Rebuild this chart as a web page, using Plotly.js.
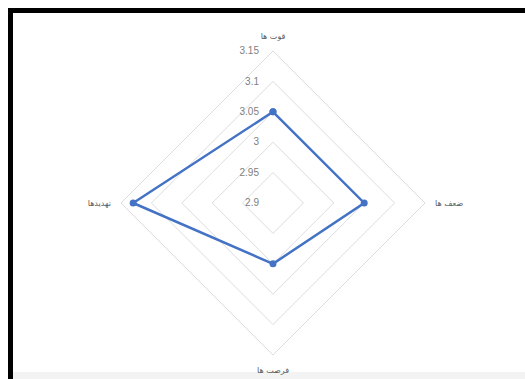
<!DOCTYPE html>
<html>
<head>
<meta charset="utf-8">
<script src="https://cdn.plot.ly/plotly-3.0.1.min.js"></script>
<style>
  html, body { margin: 0; padding: 0; background: #ffffff; width: 525px; height: 379px; overflow: hidden; }
  #frame { position: absolute; left: 8px; top: 8px; width: 517px; height: 371px;
           border-top: 5px solid #000; border-left: 5px solid #000; box-sizing: border-box; }
  #band { position: absolute; left: 13px; top: 372px; width: 512px; height: 7px; background: #f3f3f3; }
  #chart { position: absolute; left: 13px; top: 13px; width: 512px; height: 366px; }
</style>
</head>
<body>
<div id="frame"></div>
<div id="band"></div>
<div id="chart"></div>
<script>
// Data (SWOT scores)
const categories = ['قوت ها', 'ضعف ها', 'فرصت ها', 'تهدیدها'];
const values = [3.05, 3.05, 3.00, 3.13];
const radialTicks = [2.9, 2.95, 3, 3.05, 3.1, 3.15];
const radialTickLabels = ['2.9', '2.95', '3', '3.05', '3.1', '3.15'];

const trace = {
  type: 'scatterpolar',
  r: values.concat([values[0]]),
  theta: categories.concat([categories[0]]),
  mode: 'lines+markers',
  line: { color: '#4472C4', width: 2.5 },
  marker: { color: '#4472C4', size: 7 },
  hoverinfo: 'skip'
};

const layout = {
  width: 512,
  height: 366,
  margin: { l: 0, r: 0, t: 0, b: 0 },
  paper_bgcolor: 'rgba(0,0,0,0)',
  plot_bgcolor: 'rgba(0,0,0,0)',
  showlegend: false,
  polar: {
    domain: { x: [0.2109, 0.8047], y: [0.0656, 0.8962] },
    gridshape: 'linear',
    bgcolor: 'rgba(0,0,0,0)',
    radialaxis: {
      range: [2.9, 3.15],
      tickvals: radialTicks,
      ticktext: radialTickLabels,
      angle: 90,
      tickangle: 90,
      side: 'counterclockwise',
      showline: false,
      ticks: 'outside',
      ticklen: 10,
      tickcolor: 'rgba(0,0,0,0)',
      gridcolor: '#dcdcdc',
      gridwidth: 1,
      tickfont: { family: 'Liberation Sans, Arial, sans-serif', size: 10, color: '#808080' }
    },
    angularaxis: {
      rotation: 90,
      direction: 'clockwise',
      showgrid: false,
      showline: true,
      linecolor: '#dcdcdc',
      linewidth: 1,
      ticks: 'outside',
      ticklen: 8,
      tickcolor: 'rgba(0,0,0,0)',
      tickfont: { family: 'DejaVu Sans, Noto Sans, sans-serif', size: 8, color: '#595959' }
    }
  }
};

Plotly.newPlot('chart', [trace], layout, { displayModeBar: false, staticPlot: true });
</script>
</body>
</html>
